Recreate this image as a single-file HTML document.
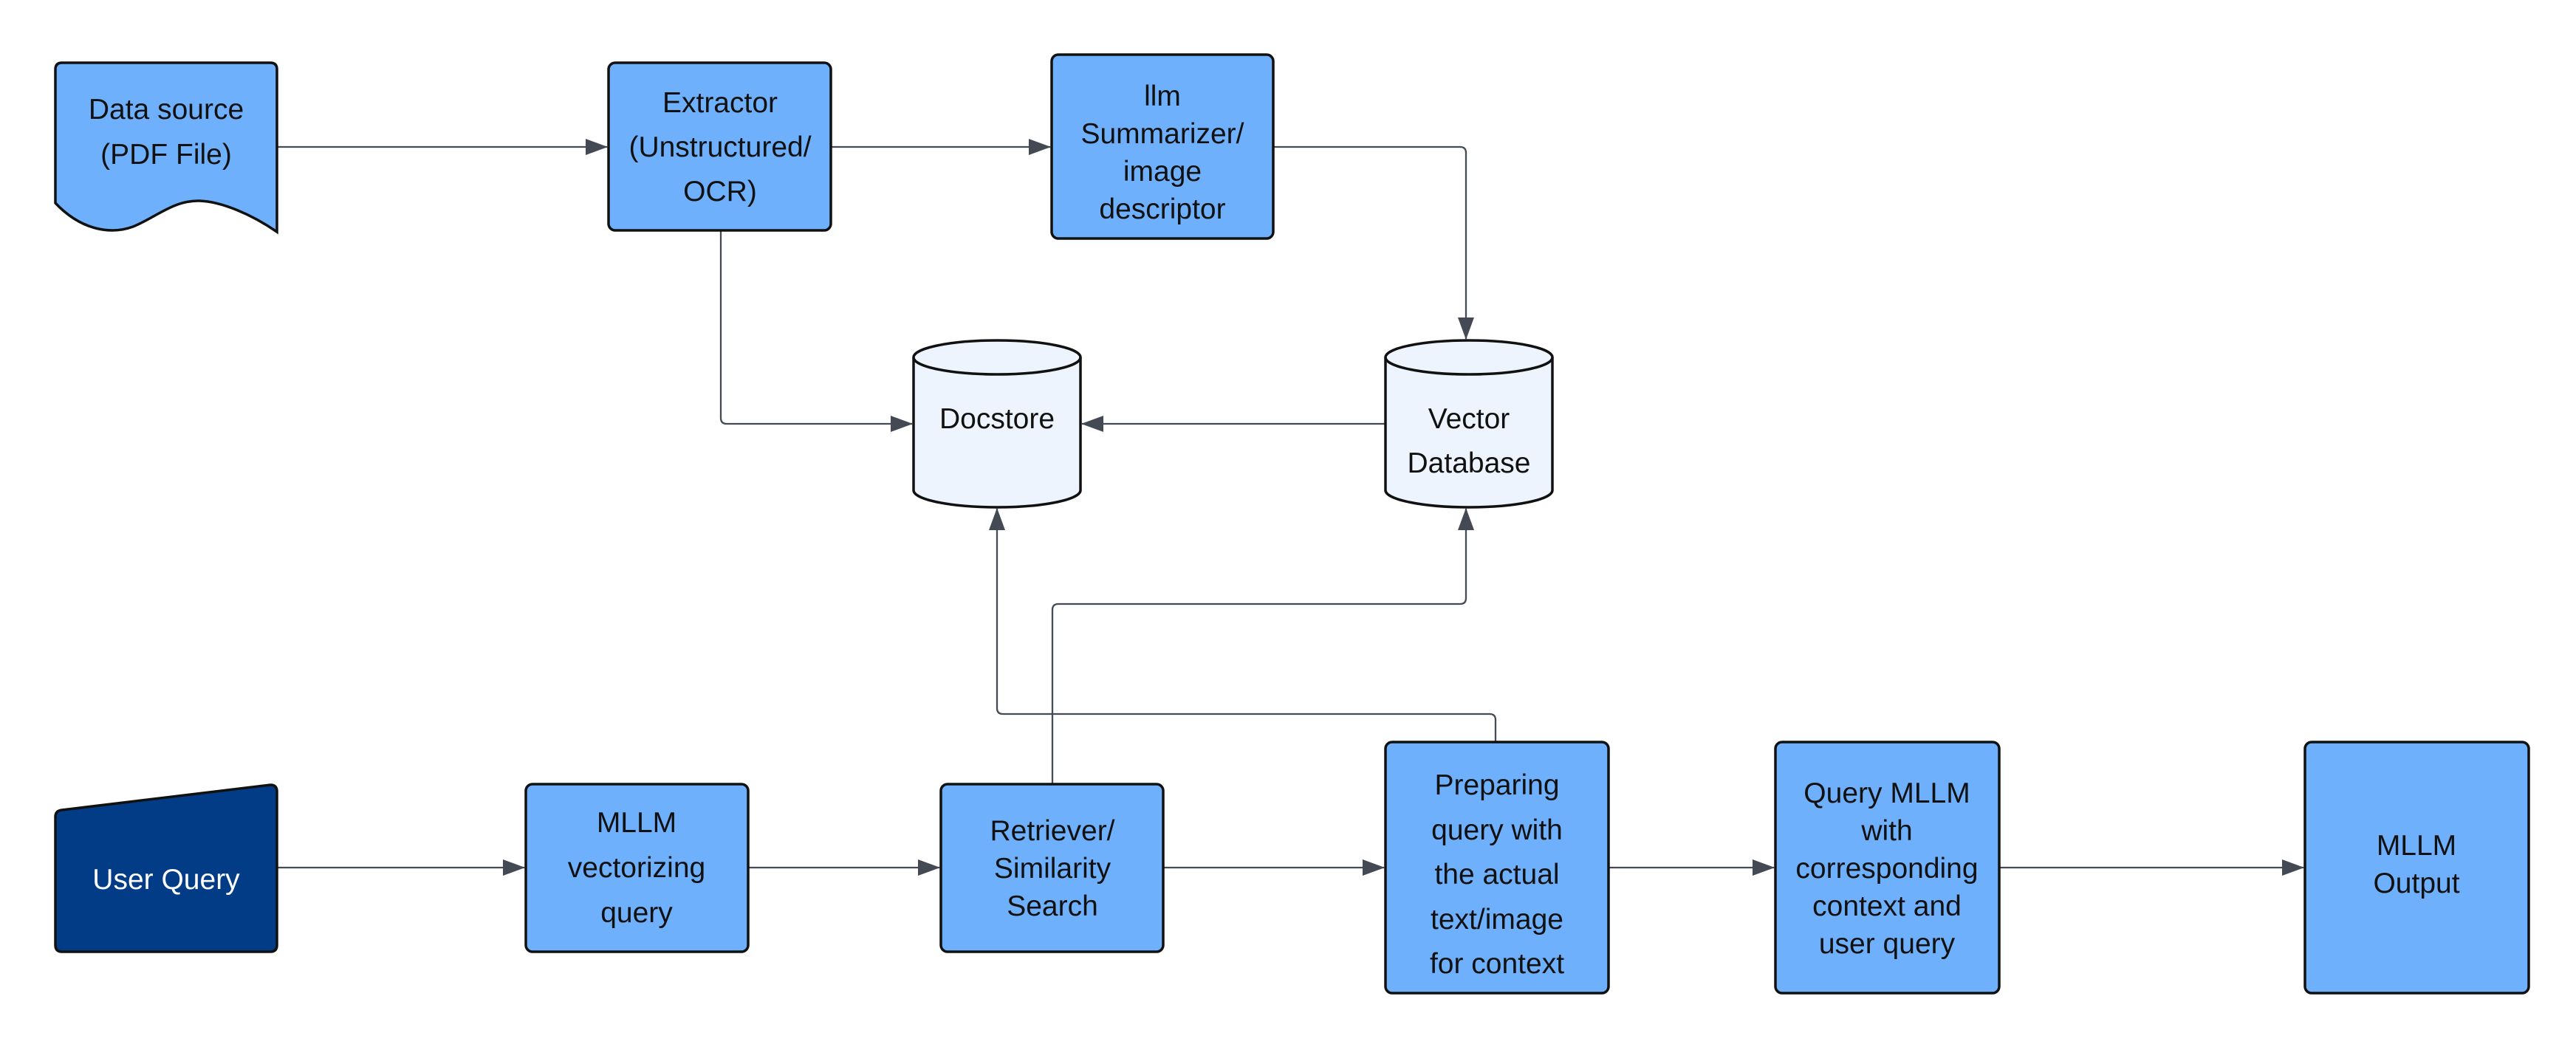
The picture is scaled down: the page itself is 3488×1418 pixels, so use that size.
<!DOCTYPE html>
<html><head><meta charset="utf-8"><style>
html,body{margin:0;padding:0;background:#fff;}
svg{display:block;}
text{font-family:"Liberation Sans",sans-serif;font-size:39px;fill:#111;text-anchor:middle;}
</style></head><body>
<svg width="3488" height="1418" viewBox="0 0 3488 1418" xmlns="http://www.w3.org/2000/svg">
<defs>
<marker id="a" markerWidth="30" markerHeight="22" refX="29" refY="11" orient="auto" markerUnits="userSpaceOnUse">
<path d="M0,0 L30,11 L0,22 Z" fill="#434a54"/>
</marker>
</defs>
<g fill="none" stroke="#454b55" stroke-width="2.3">
<path d="M375,199 H822" marker-end="url(#a)"/>
<path d="M1125,199 H1422" marker-end="url(#a)"/>
<path d="M1724,199 H1977 Q1985,199 1985,207 V459" marker-end="url(#a)"/>
<path d="M976,312 V566 Q976,574 984,574 H1235" marker-end="url(#a)"/>
<path d="M1876,574 H1465" marker-end="url(#a)"/>
<path d="M2025,1005 V975 Q2025,967 2017,967 H1358 Q1350,967 1350,959 V689" marker-end="url(#a)"/>
<path d="M1425,1062 V826 Q1425,818 1433,818 H1977 Q1985,818 1985,810 V689" marker-end="url(#a)"/>
<path d="M375,1175 H710" marker-end="url(#a)"/>
<path d="M1013,1175 H1272" marker-end="url(#a)"/>
<path d="M1575,1175 H1874" marker-end="url(#a)"/>
<path d="M2178,1175 H2402" marker-end="url(#a)"/>
<path d="M2707,1175 H3119" marker-end="url(#a)"/>
</g>
<g stroke="#111" stroke-width="3.5">
<path d="M84,85 H366 Q375,85 375,94 V314 C340,290 300,273 270,272 C235,271 210,295 180,307 C150,318 110,312 75,275 V94 Q75,85 84,85 Z" fill="#6eb0fc"/>
<rect x="824" y="85" width="301" height="227" rx="9" fill="#6eb0fc"/>
<rect x="1424" y="74" width="300" height="249" rx="9" fill="#6eb0fc"/>
<rect x="712" y="1062" width="301" height="227" rx="9" fill="#6eb0fc"/>
<rect x="1274" y="1062" width="301" height="227" rx="9" fill="#6eb0fc"/>
<rect x="1876" y="1005" width="302" height="340" rx="9" fill="#6eb0fc"/>
<rect x="2404" y="1005" width="303" height="340" rx="9" fill="#6eb0fc"/>
<rect x="3121" y="1005" width="303" height="340" rx="9" fill="#6eb0fc"/>
<path d="M84,1097 L366,1063 Q375,1063 375,1072 V1280 Q375,1289 366,1289 H84 Q75,1289 75,1280 V1106 Q75,1098 84,1097 Z" fill="#023c86"/>
<path d="M1237,484 V664 A113,23 0 0 0 1463,664 V484 A113,23 0 0 0 1237,484 Z" fill="#edf4fe"/>
<path d="M1237,484 A113,23 0 0 0 1463,484" fill="none"/>
<path d="M1876,484 V664 A113,23 0 0 0 2102,664 V484 A113,23 0 0 0 1876,484 Z" fill="#edf4fe"/>
<path d="M1876,484 A113,23 0 0 0 2102,484" fill="none"/>
</g>
<text x="225" y="161">Data source</text>
<text x="225" y="222">(PDF File)</text>
<text x="975" y="152">Extractor</text>
<text x="975" y="212">(Unstructured/</text>
<text x="975" y="272">OCR)</text>
<text x="1574" y="143">llm</text>
<text x="1574" y="194">Summarizer/</text>
<text x="1574" y="245">image</text>
<text x="1574" y="296">descriptor</text>
<text x="1350" y="580">Docstore</text>
<text x="1989" y="580">Vector</text>
<text x="1989" y="640">Database</text>
<text x="225" y="1204" style="fill:#fff">User Query</text>
<text x="862" y="1127">MLLM</text>
<text x="862" y="1188">vectorizing</text>
<text x="862" y="1249">query</text>
<text x="1425" y="1138">Retriever/</text>
<text x="1425" y="1189">Similarity</text>
<text x="1425" y="1240">Search</text>
<text x="2027" y="1076">Preparing</text>
<text x="2027" y="1137">query with</text>
<text x="2027" y="1197">the actual</text>
<text x="2027" y="1258">text/image</text>
<text x="2027" y="1318">for context</text>
<text x="2555" y="1087">Query MLLM</text>
<text x="2555" y="1138">with</text>
<text x="2555" y="1189">corresponding</text>
<text x="2555" y="1240">context and</text>
<text x="2555" y="1291">user query</text>
<text x="3272" y="1158">MLLM</text>
<text x="3272" y="1209">Output</text>
</svg>
</body></html>
